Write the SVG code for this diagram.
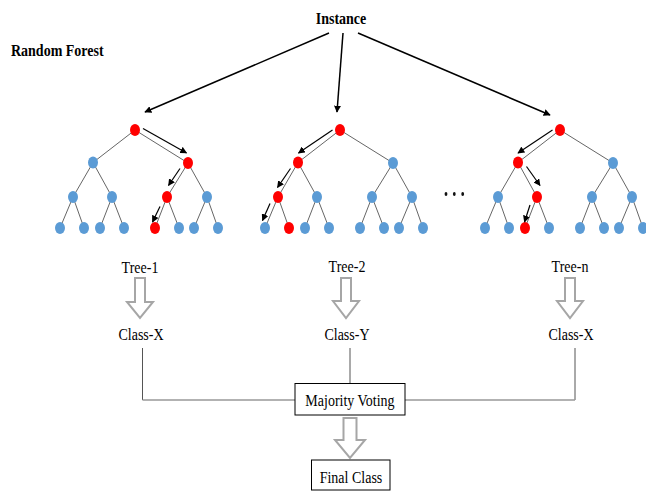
<svg xmlns="http://www.w3.org/2000/svg" width="646" height="491" viewBox="0 0 646 491">
<style>
.bg{fill:#ffffff}
.t{font-family:"Liberation Serif","Times New Roman",serif;font-size:14px;fill:#000}
.tb{font-family:"Liberation Serif","Times New Roman",serif;font-size:14px;font-weight:bold;fill:#000}
.e{stroke:#666;stroke-width:1;fill:none}
.b{fill:#5b9bd5}
.r{fill:#ff0000}
ellipse.b,ellipse.r{}
.pa{stroke:#000;stroke-width:1.2;fill:none;marker-end:url(#ah)}
.ia{stroke:#000;stroke-width:1.5;fill:none;marker-end:url(#ah)}
.ha{fill:#fff;stroke:#a6a6a6;stroke-width:2;stroke-linejoin:miter}
.ln{stroke:#555;stroke-width:1;fill:none}
.lg{stroke:#999;stroke-width:1.5;fill:none}
.box{fill:#fff;stroke:#000;stroke-width:1}
</style>
<defs>
<marker id="ah" viewBox="0 0 10 10" refX="9" refY="5" markerWidth="7" markerHeight="7" markerUnits="userSpaceOnUse" orient="auto">
<path d="M0,0 L10,5 L0,10 z" fill="#000"/>
</marker>
</defs>
<rect class="bg" x="0" y="0" width="646" height="491"/>

<g id="title"><text class="tb" x="11" y="56" transform="translate(0,-11) scale(1,1.2)">Random Forest</text></g>
<g id="instance"><text class="tb" x="341" y="24.5" text-anchor="middle" transform="translate(0,-4.9) scale(1,1.2)">Instance</text></g>

<g id="connectors">
<line class="ia" x1="329" y1="33" x2="145" y2="112"/>
<line class="ia" x1="343" y1="33" x2="337" y2="112"/>
<line class="ia" x1="358" y1="33" x2="550" y2="115"/>
<line class="ln" x1="142.5" y1="348" x2="142.5" y2="400"/>
<line class="lg" x1="142.5" y1="400" x2="295" y2="400"/>
<line class="ln" x1="350" y1="348" x2="350" y2="383.5"/>
<line class="ln" x1="575" y1="348" x2="575" y2="400"/>
<line class="lg" x1="405" y1="400" x2="575" y2="400"/>
</g>

<g id="tree-1">
<g class="edges">
<line class="e" x1="135" y1="130" x2="93" y2="162.5"/><line class="e" x1="135" y1="130" x2="188" y2="163"/>
<line class="e" x1="93" y1="162.5" x2="73" y2="197"/><line class="e" x1="93" y1="162.5" x2="112" y2="197"/>
<line class="e" x1="188" y1="163" x2="167" y2="197"/><line class="e" x1="188" y1="163" x2="207" y2="197"/>
<line class="e" x1="73" y1="197" x2="60" y2="228"/><line class="e" x1="73" y1="197" x2="84" y2="228"/>
<line class="e" x1="112" y1="197" x2="100" y2="228"/><line class="e" x1="112" y1="197" x2="124" y2="228"/>
<line class="e" x1="167" y1="197" x2="155" y2="228"/><line class="e" x1="167" y1="197" x2="179" y2="228"/>
<line class="e" x1="207" y1="197" x2="194" y2="228"/><line class="e" x1="207" y1="197" x2="218" y2="228"/>
</g>
<ellipse class="r" cx="135" cy="130" rx="5" ry="6"/>
<ellipse class="b" cx="93" cy="162.5" rx="5" ry="6"/><ellipse class="r" cx="188" cy="163" rx="5" ry="6"/>
<ellipse class="b" cx="73" cy="197" rx="5" ry="6"/><ellipse class="b" cx="112" cy="197" rx="5" ry="6"/>
<ellipse class="r" cx="167" cy="197" rx="5" ry="6"/><ellipse class="b" cx="207" cy="197" rx="5" ry="6"/>
<ellipse class="b" cx="60" cy="228" rx="5" ry="6"/><ellipse class="b" cx="84" cy="228" rx="5" ry="6"/>
<ellipse class="b" cx="100" cy="228" rx="5" ry="6"/><ellipse class="b" cx="124" cy="228" rx="5" ry="6"/>
<ellipse class="r" cx="155" cy="228" rx="5" ry="6"/><ellipse class="b" cx="179" cy="228" rx="5" ry="6"/>
<ellipse class="b" cx="194" cy="228" rx="5" ry="6"/><ellipse class="b" cx="218" cy="228" rx="5" ry="6"/>
<line class="pa" x1="143" y1="128.5" x2="186.5" y2="153"/>
<line class="pa" x1="180" y1="168.5" x2="168.5" y2="185.5"/>
<line class="pa" x1="160" y1="206.5" x2="152.5" y2="222"/>
</g>

<g id="tree-2">
<g class="edges">
<line class="e" x1="340" y1="130" x2="298" y2="162.5"/><line class="e" x1="340" y1="130" x2="393" y2="163"/>
<line class="e" x1="298" y1="162.5" x2="278" y2="197"/><line class="e" x1="298" y1="162.5" x2="317" y2="197"/>
<line class="e" x1="393" y1="163" x2="372" y2="197"/><line class="e" x1="393" y1="163" x2="412" y2="197"/>
<line class="e" x1="278" y1="197" x2="265" y2="228"/><line class="e" x1="278" y1="197" x2="289" y2="228"/>
<line class="e" x1="317" y1="197" x2="305" y2="228"/><line class="e" x1="317" y1="197" x2="329" y2="228"/>
<line class="e" x1="372" y1="197" x2="360" y2="228"/><line class="e" x1="372" y1="197" x2="384" y2="228"/>
<line class="e" x1="412" y1="197" x2="399" y2="228"/><line class="e" x1="412" y1="197" x2="423" y2="228"/>
</g>
<ellipse class="r" cx="340" cy="130" rx="5" ry="6"/>
<ellipse class="r" cx="298" cy="162.5" rx="5" ry="6"/><ellipse class="b" cx="393" cy="163" rx="5" ry="6"/>
<ellipse class="r" cx="278" cy="197" rx="5" ry="6"/><ellipse class="b" cx="317" cy="197" rx="5" ry="6"/>
<ellipse class="b" cx="372" cy="197" rx="5" ry="6"/><ellipse class="b" cx="412" cy="197" rx="5" ry="6"/>
<ellipse class="b" cx="265" cy="228" rx="5" ry="6"/><ellipse class="r" cx="289" cy="228" rx="5" ry="6"/>
<ellipse class="b" cx="305" cy="228" rx="5" ry="6"/><ellipse class="b" cx="329" cy="228" rx="5" ry="6"/>
<ellipse class="b" cx="360" cy="228" rx="5" ry="6"/><ellipse class="b" cx="384" cy="228" rx="5" ry="6"/>
<ellipse class="b" cx="399" cy="228" rx="5" ry="6"/><ellipse class="b" cx="423" cy="228" rx="5" ry="6"/>
<line class="pa" x1="332.5" y1="130" x2="298.5" y2="153"/>
<line class="pa" x1="290.5" y1="168.5" x2="277.5" y2="187.5"/>
<line class="pa" x1="270" y1="203.5" x2="262.5" y2="220.5"/>
</g>

<g id="ellipsis">
<ellipse cx="446" cy="194" rx="1.4" ry="2" fill="#111"/>
<ellipse cx="454.3" cy="194" rx="1.4" ry="2" fill="#111"/>
<ellipse cx="462.7" cy="194" rx="1.4" ry="2" fill="#111"/>
</g>

<g id="tree-n">
<g class="edges">
<line class="e" x1="560" y1="130" x2="518" y2="162.5"/><line class="e" x1="560" y1="130" x2="613" y2="163"/>
<line class="e" x1="518" y1="162.5" x2="498" y2="197"/><line class="e" x1="518" y1="162.5" x2="537" y2="197"/>
<line class="e" x1="613" y1="163" x2="592" y2="197"/><line class="e" x1="613" y1="163" x2="632" y2="197"/>
<line class="e" x1="498" y1="197" x2="485" y2="228"/><line class="e" x1="498" y1="197" x2="509" y2="228"/>
<line class="e" x1="537" y1="197" x2="525" y2="228"/><line class="e" x1="537" y1="197" x2="549" y2="228"/>
<line class="e" x1="592" y1="197" x2="580" y2="228"/><line class="e" x1="592" y1="197" x2="604" y2="228"/>
<line class="e" x1="632" y1="197" x2="619" y2="228"/><line class="e" x1="632" y1="197" x2="643" y2="228"/>
</g>
<ellipse class="r" cx="560" cy="130" rx="5" ry="6"/>
<ellipse class="r" cx="518" cy="162.5" rx="5" ry="6"/><ellipse class="b" cx="613" cy="163" rx="5" ry="6"/>
<ellipse class="b" cx="498" cy="197" rx="5" ry="6"/><ellipse class="r" cx="537" cy="197" rx="5" ry="6"/>
<ellipse class="b" cx="592" cy="197" rx="5" ry="6"/><ellipse class="b" cx="632" cy="197" rx="5" ry="6"/>
<ellipse class="b" cx="485" cy="228" rx="5" ry="6"/><ellipse class="b" cx="509" cy="228" rx="5" ry="6"/>
<ellipse class="r" cx="525" cy="228" rx="5" ry="6"/><ellipse class="b" cx="549" cy="228" rx="5" ry="6"/>
<ellipse class="b" cx="580" cy="228" rx="5" ry="6"/><ellipse class="b" cx="604" cy="228" rx="5" ry="6"/>
<ellipse class="b" cx="619" cy="228" rx="5" ry="6"/><ellipse class="b" cx="643" cy="228" rx="5" ry="6"/>
<line class="pa" x1="552.5" y1="130" x2="518" y2="153"/>
<line class="pa" x1="526.5" y1="166.5" x2="540" y2="185.5"/>
<line class="pa" x1="530" y1="205" x2="524.5" y2="222"/>
</g>

<g id="label-tree-1"><text class="t" x="140" y="273" text-anchor="middle" transform="translate(0,-41) scale(1,1.15)">Tree-1</text></g>
<g id="label-tree-2"><text class="t" x="347" y="272.5" text-anchor="middle" transform="translate(0,-41) scale(1,1.15)">Tree-2</text></g>
<g id="label-tree-n"><text class="t" x="570" y="272.5" text-anchor="middle" transform="translate(0,-41) scale(1,1.15)">Tree-n</text></g>

<g id="arrow-1"><path class="ha" d="M135,278 H145 V302 H153 L140,318 L127,302 H135 Z"/></g>
<g id="arrow-2"><path class="ha" d="M341,278 H351 V301 H359 L346,318 L333,301 H341 Z"/></g>
<g id="arrow-n"><path class="ha" d="M565,278 H575 V301 H583 L570,318 L557,301 H565 Z"/></g>

<g id="class-1"><text class="t" x="141" y="340" text-anchor="middle" transform="translate(0,-51) scale(1,1.15)">Class-X</text></g>
<g id="class-2"><text class="t" x="347" y="340" text-anchor="middle" transform="translate(0,-51) scale(1,1.15)">Class-Y</text></g>
<g id="class-n"><text class="t" x="571" y="340" text-anchor="middle" transform="translate(0,-51) scale(1,1.15)">Class-X</text></g>

<g id="majority-voting">
<rect class="box" x="295" y="383.5" width="110" height="31.5"/>
<text class="t" x="350" y="406" text-anchor="middle" transform="translate(0,-53) scale(1,1.13)">Majority Voting</text>
</g>

<g id="arrow-final"><path class="ha" d="M343.5,418 H356.5 V440 H365 L350,458 L335,440 H343.5 Z"/></g>

<g id="final-class">
<rect class="box" x="311.5" y="460" width="78.5" height="30"/>
<text class="t" x="351" y="483" text-anchor="middle" transform="translate(0,-63) scale(1,1.13)">Final Class</text>
</g>
</svg>
